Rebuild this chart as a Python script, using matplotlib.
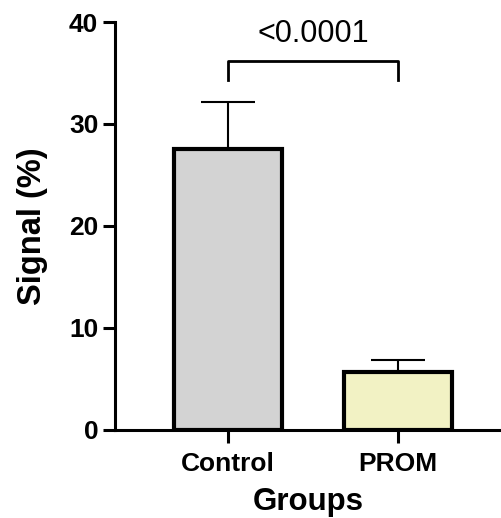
import matplotlib
matplotlib.use("Agg")
import matplotlib.pyplot as plt

# dane
groups = ["Control", "PROM"]
means = [27.5, 5.7]
err_up = [4.7, 1.15]
fills = ["#D3D3D3", "#F2F2C4"]
p_text = "<0.0001"
bracket_y = 36.2
bracket_drop = 1.9

plt.rcParams["font.family"] = ["Liberation Sans", "DejaVu Sans"]

fig = plt.figure(figsize=(5.01, 5.18), dpi=100)
ax = fig.add_axes([0.2295, 0.17, 0.7705, 0.7875])

x = list(range(len(groups)))
ax.errorbar(x, means, yerr=[[0] * len(means), err_up], fmt="none",
            ecolor="black", elinewidth=1.5, capsize=19.5, capthick=1.5, zorder=1)
ax.bar(x, means, width=0.63, color=fills, edgecolor="black", linewidth=3.0, zorder=2)

# nawias istotności
ax.plot([x[0], x[0], x[1], x[1]],
        [bracket_y - bracket_drop, bracket_y, bracket_y, bracket_y - bracket_drop],
        color="black", linewidth=2.0, clip_on=False)
ax.text((x[0] + x[1]) / 2, bracket_y + 1.2, p_text, ha="center", va="bottom", fontsize=22)

ax.set_xlim(-0.665, 1.606)
ax.set_ylim(0, 40)
ax.set_yticks([0, 10, 20, 30, 40])
ax.set_xticks(x)
ax.set_xticklabels(groups)

for s in ["top", "right"]:
    ax.spines[s].set_visible(False)
for s in ["left", "bottom"]:
    ax.spines[s].set_linewidth(2.2)

ax.tick_params(axis="both", direction="out", length=9, width=2.2, labelsize=19)
for lab in ax.get_xticklabels() + ax.get_yticklabels():
    lab.set_fontweight("bold")
ax.tick_params(axis="y", pad=3)
ax.tick_params(axis="x", pad=7)

ax.set_ylabel("Signal (%)", fontsize=23.5, fontweight="bold", labelpad=15)
ax.set_xlabel("Groups", fontsize=22.5, fontweight="bold", labelpad=8)

fig.savefig("out.png", dpi=100)
